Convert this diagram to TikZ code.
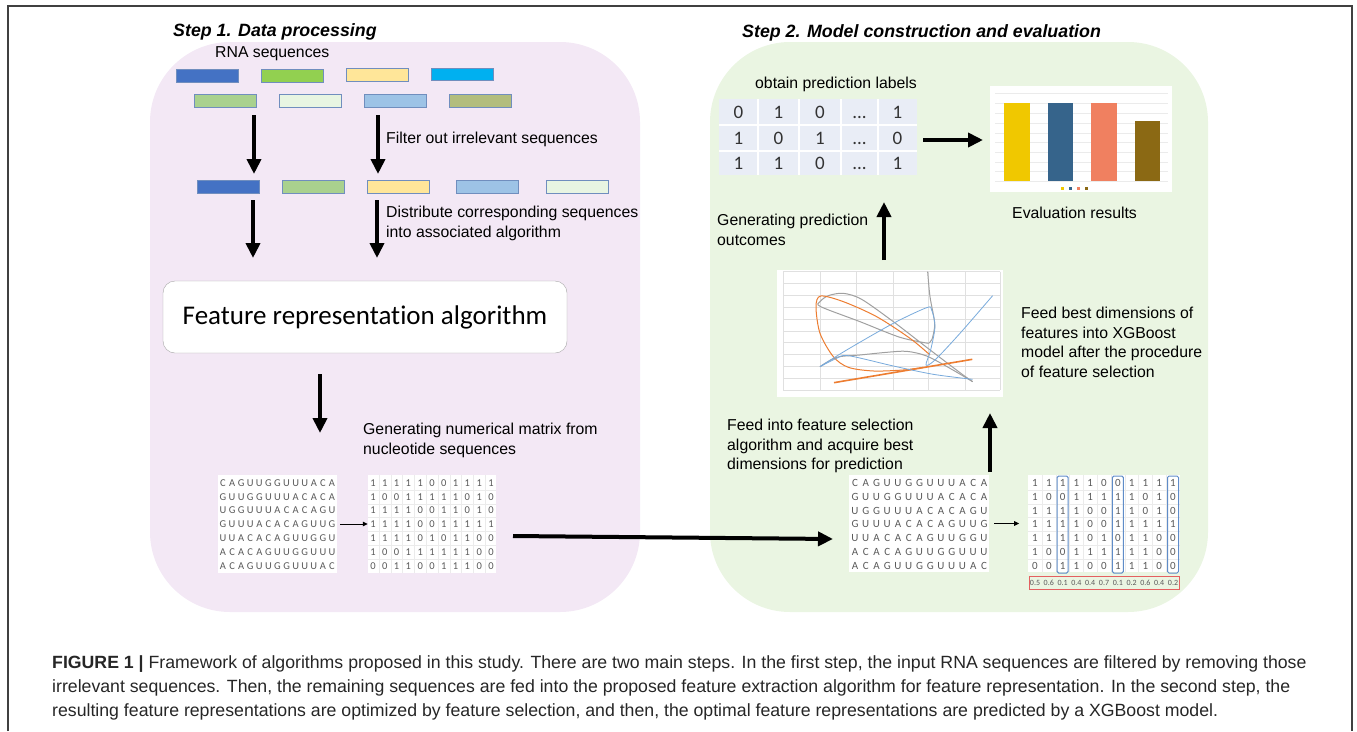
\documentclass[tikz,border=0pt]{standalone}
\usepackage{fontspec}
\setmainfont{Liberation Sans}
\newfontfamily\carlito[Ligatures=NoCommon]{Carlito}
\newfontfamily\capfont{Liberation Sans}
\usetikzlibrary{arrows.meta}

\definecolor{pinkbg}{RGB}{243,232,245}
\definecolor{greenbg}{RGB}{234,245,226}
\definecolor{barline}{RGB}{112,142,190}
\definecolor{cblue}{RGB}{68,114,196}
\definecolor{cgreen}{RGB}{146,208,80}
\definecolor{cyellow}{RGB}{255,230,153}
\definecolor{ccyan}{RGB}{0,176,240}
\definecolor{clgreen}{RGB}{169,209,142}
\definecolor{cpale}{RGB}{232,245,226}
\definecolor{clblue}{RGB}{157,195,230}
\definecolor{colive}{RGB}{178,189,125}
\definecolor{mgray}{RGB}{90,90,90}
\definecolor{tblbg}{RGB}{233,237,246}
\definecolor{selblue}{RGB}{95,140,200}
\definecolor{selred}{RGB}{228,96,96}
\definecolor{plorange}{RGB}{237,125,49}
\definecolor{plgray}{RGB}{160,160,160}
\definecolor{plblue}{RGB}{120,170,220}
\definecolor{byellow}{RGB}{240,200,0}
\definecolor{bblue}{RGB}{54,100,139}
\definecolor{bsalmon}{RGB}{240,128,96}
\definecolor{bbrown}{RGB}{139,105,20}

\tikzset{
  lbl/.style={anchor=north west, inner sep=0pt, align=left, font=\fontsize{15.8}{19.5}\selectfont},
  ttl/.style={anchor=north west, inner sep=0pt, font=\fontsize{17.8}{20}\selectfont\bfseries\itshape},
  seqbar/.style={draw=barline, line width=0.8pt, fill=#1, minimum width=62pt, minimum height=12.5pt, inner sep=0pt},
  bigarrow/.style={line width=4pt, -{Triangle[length=15pt,width=14pt]}},
  thinarrow/.style={line width=1pt, -{Triangle[length=5pt,width=4.5pt]}},
  mchar/.style={inner sep=0pt, text=mgray, font=\carlito\fontsize{#1}{#1}\selectfont},
  mchar/.default=10.5
}

\def\seqrows{{C,A,G,U,U,G,G,U,U,U,A,C,A},{G,U,U,G,G,U,U,U,A,C,A,C,A},{U,G,G,U,U,U,A,C,A,C,A,G,U},{G,U,U,U,A,C,A,C,A,G,U,U,G},{U,U,A,C,A,C,A,G,U,U,G,G,U},{A,C,A,C,A,G,U,U,G,G,U,U,U},{A,C,A,G,U,U,G,G,U,U,U,A,C}}
\def\binrows{{1,1,1,1,1,0,0,1,1,1,1},{1,0,0,1,1,1,1,1,0,1,0},{1,1,1,1,0,0,1,1,0,1,0},{1,1,1,1,0,0,1,1,1,1,1},{1,1,1,1,0,1,0,1,1,0,0},{1,0,0,1,1,1,1,1,1,0,0},{0,0,1,1,0,0,1,1,1,0,0}}
\def\dd{...}

\begin{document}
\begin{tikzpicture}[x=1pt,y=-1pt]
  \useasboundingbox (0,0) rectangle (1357,731);
  % frame
  \draw[line width=1.2pt, black!75] (8,731) -- (8,6) -- (1352,6) -- (1352,731);

  % backgrounds of the two steps
  \fill[pinkbg, rounded corners=80pt] (150,42) rectangle (640,612);
  \fill[greenbg, rounded corners=80pt] (710,42) rectangle (1208,612);
  \node[ttl] (t1) at (173,23.5) {Step 1. Data processing};
  \node[ttl] (t2) at (742,24.5) {Step 2. Model construction and evaluation};

  % ---- Step 1 ----
  \node[lbl] (rna) at (215,46) {RNA sequences};
  % input sequences
  \node[seqbar=cblue] (a1) at (207,76) {};
  \node[seqbar=cgreen] (a2) at (292,76) {};
  \node[seqbar=cyellow] (a3) at (377,75) {};
  \node[seqbar=ccyan] (a4) at (462,74.5) {};
  \node[seqbar=clgreen] (b1) at (225,101) {};
  \node[seqbar=cpale] (b2) at (310,101) {};
  \node[seqbar=clblue] (b3) at (395.5,101) {};
  \node[seqbar=colive] (b4) at (480.5,101) {};
  % filtered sequences
  \node[seqbar=cblue] (c1) at (228.5,187) {};
  \node[seqbar=clgreen] (c2) at (313.5,187) {};
  \node[seqbar=cyellow] (c3) at (398.5,187) {};
  \node[seqbar=clblue] (c4) at (487.5,187) {};
  \node[seqbar=cpale] (c5) at (577,187) {};

  \coordinate (f1s) at (254,115); \coordinate (f1e) at (254,174);
  \coordinate (f2s) at (378,115); \coordinate (f2e) at (378,174);
  \draw[bigarrow] (f1s) -- (f1e);
  \draw[bigarrow] (f2s) -- (f2e);
  \node[lbl] (filt) at (386,132) {Filter out irrelevant sequences};

  \coordinate (d1s) at (253,200); \coordinate (d1e) at (253,258);
  \coordinate (d2s) at (377,200); \coordinate (d2e) at (377,258);
  \draw[bigarrow] (d1s) -- (d1e);
  \draw[bigarrow] (d2s) -- (d2e);
  \node[lbl] (dist) at (386,206) {Distribute corresponding sequences\\into associated algorithm};

  % feature representation
  \node[draw=black!35, fill=white, rounded corners=12pt, minimum width=404pt, minimum height=72pt,
        font=\carlito\fontsize{27}{30}\selectfont] (fra) at (365,317) {Feature representation algorithm};
  \coordinate (g1s) at (320,374); \coordinate (g1e) at (320,433);
  \draw[bigarrow] (g1s) -- (g1e);
  \node[lbl] (gen) at (363,423) {Generating numerical matrix from\\nucleotide sequences};

  % left matrices
  \node[fill=white, minimum width=119pt, minimum height=98pt, inner sep=0pt] (seqL) at (277.5,524) {};
  \foreach \seq [count=\r] in \seqrows {
    \foreach \ch [count=\c] in \seq {
      \node[mchar] at ({223+(\c-1)*9.08}, {483+(\r-1)*13.8}) {\ch};
    }
  }
  \node[fill=white, minimum width=128pt, minimum height=98pt, inner sep=0pt] (binL) at (432,524) {};
  \foreach \k in {0,...,9} \draw[black!8] ({378.9+\k*11.8},475) -- ({378.9+\k*11.8},573);
  \foreach \k in {0,...,5} \draw[black!8] (368,{489.9+\k*13.8}) -- (496,{489.9+\k*13.8});
  \foreach \bits [count=\r] in \binrows {
    \foreach \b [count=\c] in \bits {
      \node[mchar] at ({373+(\c-1)*11.8}, {483+(\r-1)*13.8}) {\b};
    }
  }
  \draw[thinarrow] (seqL.east) ++(3,0) coordinate (mL1) -- (binL.west |- mL1);

  % link between steps
  \coordinate (lk1) at (513,536); \coordinate (lk2) at (833,539);
  \draw[bigarrow] (lk1) -- (lk2);

  % ---- Step 2 ----
  \node[fill=white, minimum width=140pt, minimum height=97pt, inner sep=0pt] (seqR) at (919,523.5) {};
  \foreach \seq [count=\r] in \seqrows {
    \foreach \ch [count=\c] in \seq {
      \node[mchar=11] at ({855+(\c-1)*10.75}, {483+(\r-1)*13.8}) {\ch};
    }
  }
  \node[fill=white, minimum width=152pt, minimum height=97pt, inner sep=0pt] (binR) at (1104,523.5) {};
  \foreach \k in {0,...,9} \draw[black!8] ({1041.9+\k*13.8},475) -- ({1041.9+\k*13.8},572);
  \foreach \k in {0,...,5} \draw[black!8] (1028,{489.9+\k*13.8}) -- (1180,{489.9+\k*13.8});
  \foreach \bits [count=\r] in \binrows {
    \foreach \b [count=\c] in \bits {
      \node[mchar=11] at ({1035+(\c-1)*13.8}, {483+(\r-1)*13.8}) {\b};
    }
  }
  \draw[thinarrow] (seqR.east) ++(5,0) coordinate (mR1) -- ++(25,0);
  % selected columns
  \foreach \c in {3,7,11}
    \draw[selblue, line width=1pt, rounded corners=1.5pt] ({1035+(\c-1)*13.8-5.5},476) rectangle ({1035+(\c-1)*13.8+5.5},573);
  \draw[selred, line width=1pt] (1029,576) rectangle (1179,589);
  \foreach \v [count=\c] in {0.5,0.6,0.1,0.4,0.4,0.7,0.1,0.2,0.6,0.4,0.2}
    \node[mchar=8] at ({1035+(\c-1)*13.8}, 582.5) {\v};

  \coordinate (u1s) at (990,472); \coordinate (u1e) at (990,413);
  \draw[bigarrow] (u1s) -- (u1e);
  \node[lbl] (fsel) at (727,419) {Feed into feature selection\\algorithm and acquire best\\dimensions for prediction};

  % line chart of feature selection
  \node[fill=white, minimum width=226pt, minimum height=127pt, inner sep=0pt] (chart) at (890,333.3) {};
  \begin{scope}[shift={(760,260)}, x=0.3333pt, y=-0.3333pt]
    \foreach \gx in {70,180,290,400,505,615,720} \draw[black!12, line width=0.6pt] (\gx,35) -- (\gx,390);
    \foreach \k in {0,...,10} \draw[black!12, line width=0.6pt] (70,{35+\k*35.5}) -- (720,{35+\k*35.5});
    \draw[plgray, line width=1pt] plot[smooth] coordinates {(503,35) (510,110) (524,190) (516,238) (505,250)};
    \draw[plgray, line width=1pt] plot[smooth] coordinates {(505,250) (420,232) (300,185) (182,140) (180,125) (205,107) (250,100) (305,118) (400,185) (500,262) (600,338) (638,365)};
    \draw[plgray, line width=1pt] plot[smooth] coordinates {(180,320) (230,292) (300,285) (380,277) (440,274) (500,288) (570,325) (638,365)};
    \draw[plorange, line width=1pt] plot[smooth] coordinates {(510,285) (450,235) (350,170) (250,125) (182,108) (168,140) (180,220) (220,290) (265,322) (340,333) (430,330) (490,322)};
    \draw[plorange, line width=1.6pt] (222,368) -- (637,298);
    \draw[plblue, line width=0.8pt] plot[smooth] coordinates {(180,320) (260,270) (400,190) (500,143) (515,150) (525,200) (512,270) (498,315) (525,300) (600,220) (698,107)};
    \draw[plblue, line width=0.8pt] plot[smooth] coordinates {(180,320) (230,295) (265,287) (400,318) (520,343) (638,358)};
  \end{scope}
  \node[lbl] (fbest) at (1021,307) {Feed best dimensions of\\features into XGBoost\\model after the procedure\\of feature selection};

  \coordinate (u2s) at (884,260); \coordinate (u2e) at (884,202);
  \draw[bigarrow] (u2s) -- (u2e);
  \node[lbl] (gpo) at (717,214) {Generating prediction\\outcomes};

  % prediction labels
  \node[lbl] (obt) at (755,77) {obtain prediction labels};
  \node[fill=tblbg, minimum width=198pt, minimum height=76pt, inner sep=0pt] (tbl) at (818,137) {};
  \foreach \gx in {758,799,841,878} \draw[white, line width=1.2pt] (\gx,99) -- (\gx,175);
  \foreach \gy in {125,151} \draw[white, line width=1.2pt] (719,\gy) -- (917,\gy);
  \foreach \row [count=\r] in {{0,1,0,\dd,1},{1,0,1,\dd,0},{1,1,0,\dd,1}} {
    \foreach \d [count=\c] in \row {
      \pgfmathsetmacro\cx{{738.5,778.5,820,859.5,897.5}[\c-1]}
      \node[anchor=base, inner sep=0pt, font=\carlito\fontsize{19}{19}\selectfont, text=black!80] at (\cx,{118.5+(\r-1)*25.5}) {\d};
    }
  }
  \coordinate (r1s) at (923,140); \coordinate (r1e) at (983,140);
  \draw[bigarrow] (r1s) -- (r1e);

  % evaluation bar chart
  \node[fill=white, minimum width=182pt, minimum height=106pt, inner sep=0pt] (bars) at (1081,139) {};
  \foreach \gy in {93,103,113,123,133,142,152,162,171,181} \draw[black!8] (995,\gy) -- (1168,\gy);
  \fill[byellow] (1004,103) rectangle (1030,181);
  \fill[bblue] (1048,103) rectangle (1073,181);
  \fill[bsalmon] (1091,103) rectangle (1117,181);
  \fill[bbrown] (1135,121) rectangle (1160,181);
  \foreach \cc [count=\i] in {byellow,bblue,bsalmon,bbrown}
    \fill[\cc] ({1061+(\i-1)*8},187) rectangle ++(2.5,2.5);
  \node[lbl] (evr) at (1012,207) {Evaluation results};

  % caption
  \node[anchor=north west, inner sep=0pt, align=left, font=\capfont\fontsize{17.7}{24}\selectfont, text=black!85] (cap) at (52,655)
    {\textbf{FIGURE 1 |} Framework of algorithms proposed in this study. There are two main steps. In the first step, the input RNA sequences are filtered by removing those\\
     irrelevant sequences. Then, the remaining sequences are fed into the proposed feature extraction algorithm for feature representation. In the second step, the\\
     resulting feature representations are optimized by feature selection, and then, the optimal feature representations are predicted by a XGBoost model.};
\end{tikzpicture}
\end{document}
